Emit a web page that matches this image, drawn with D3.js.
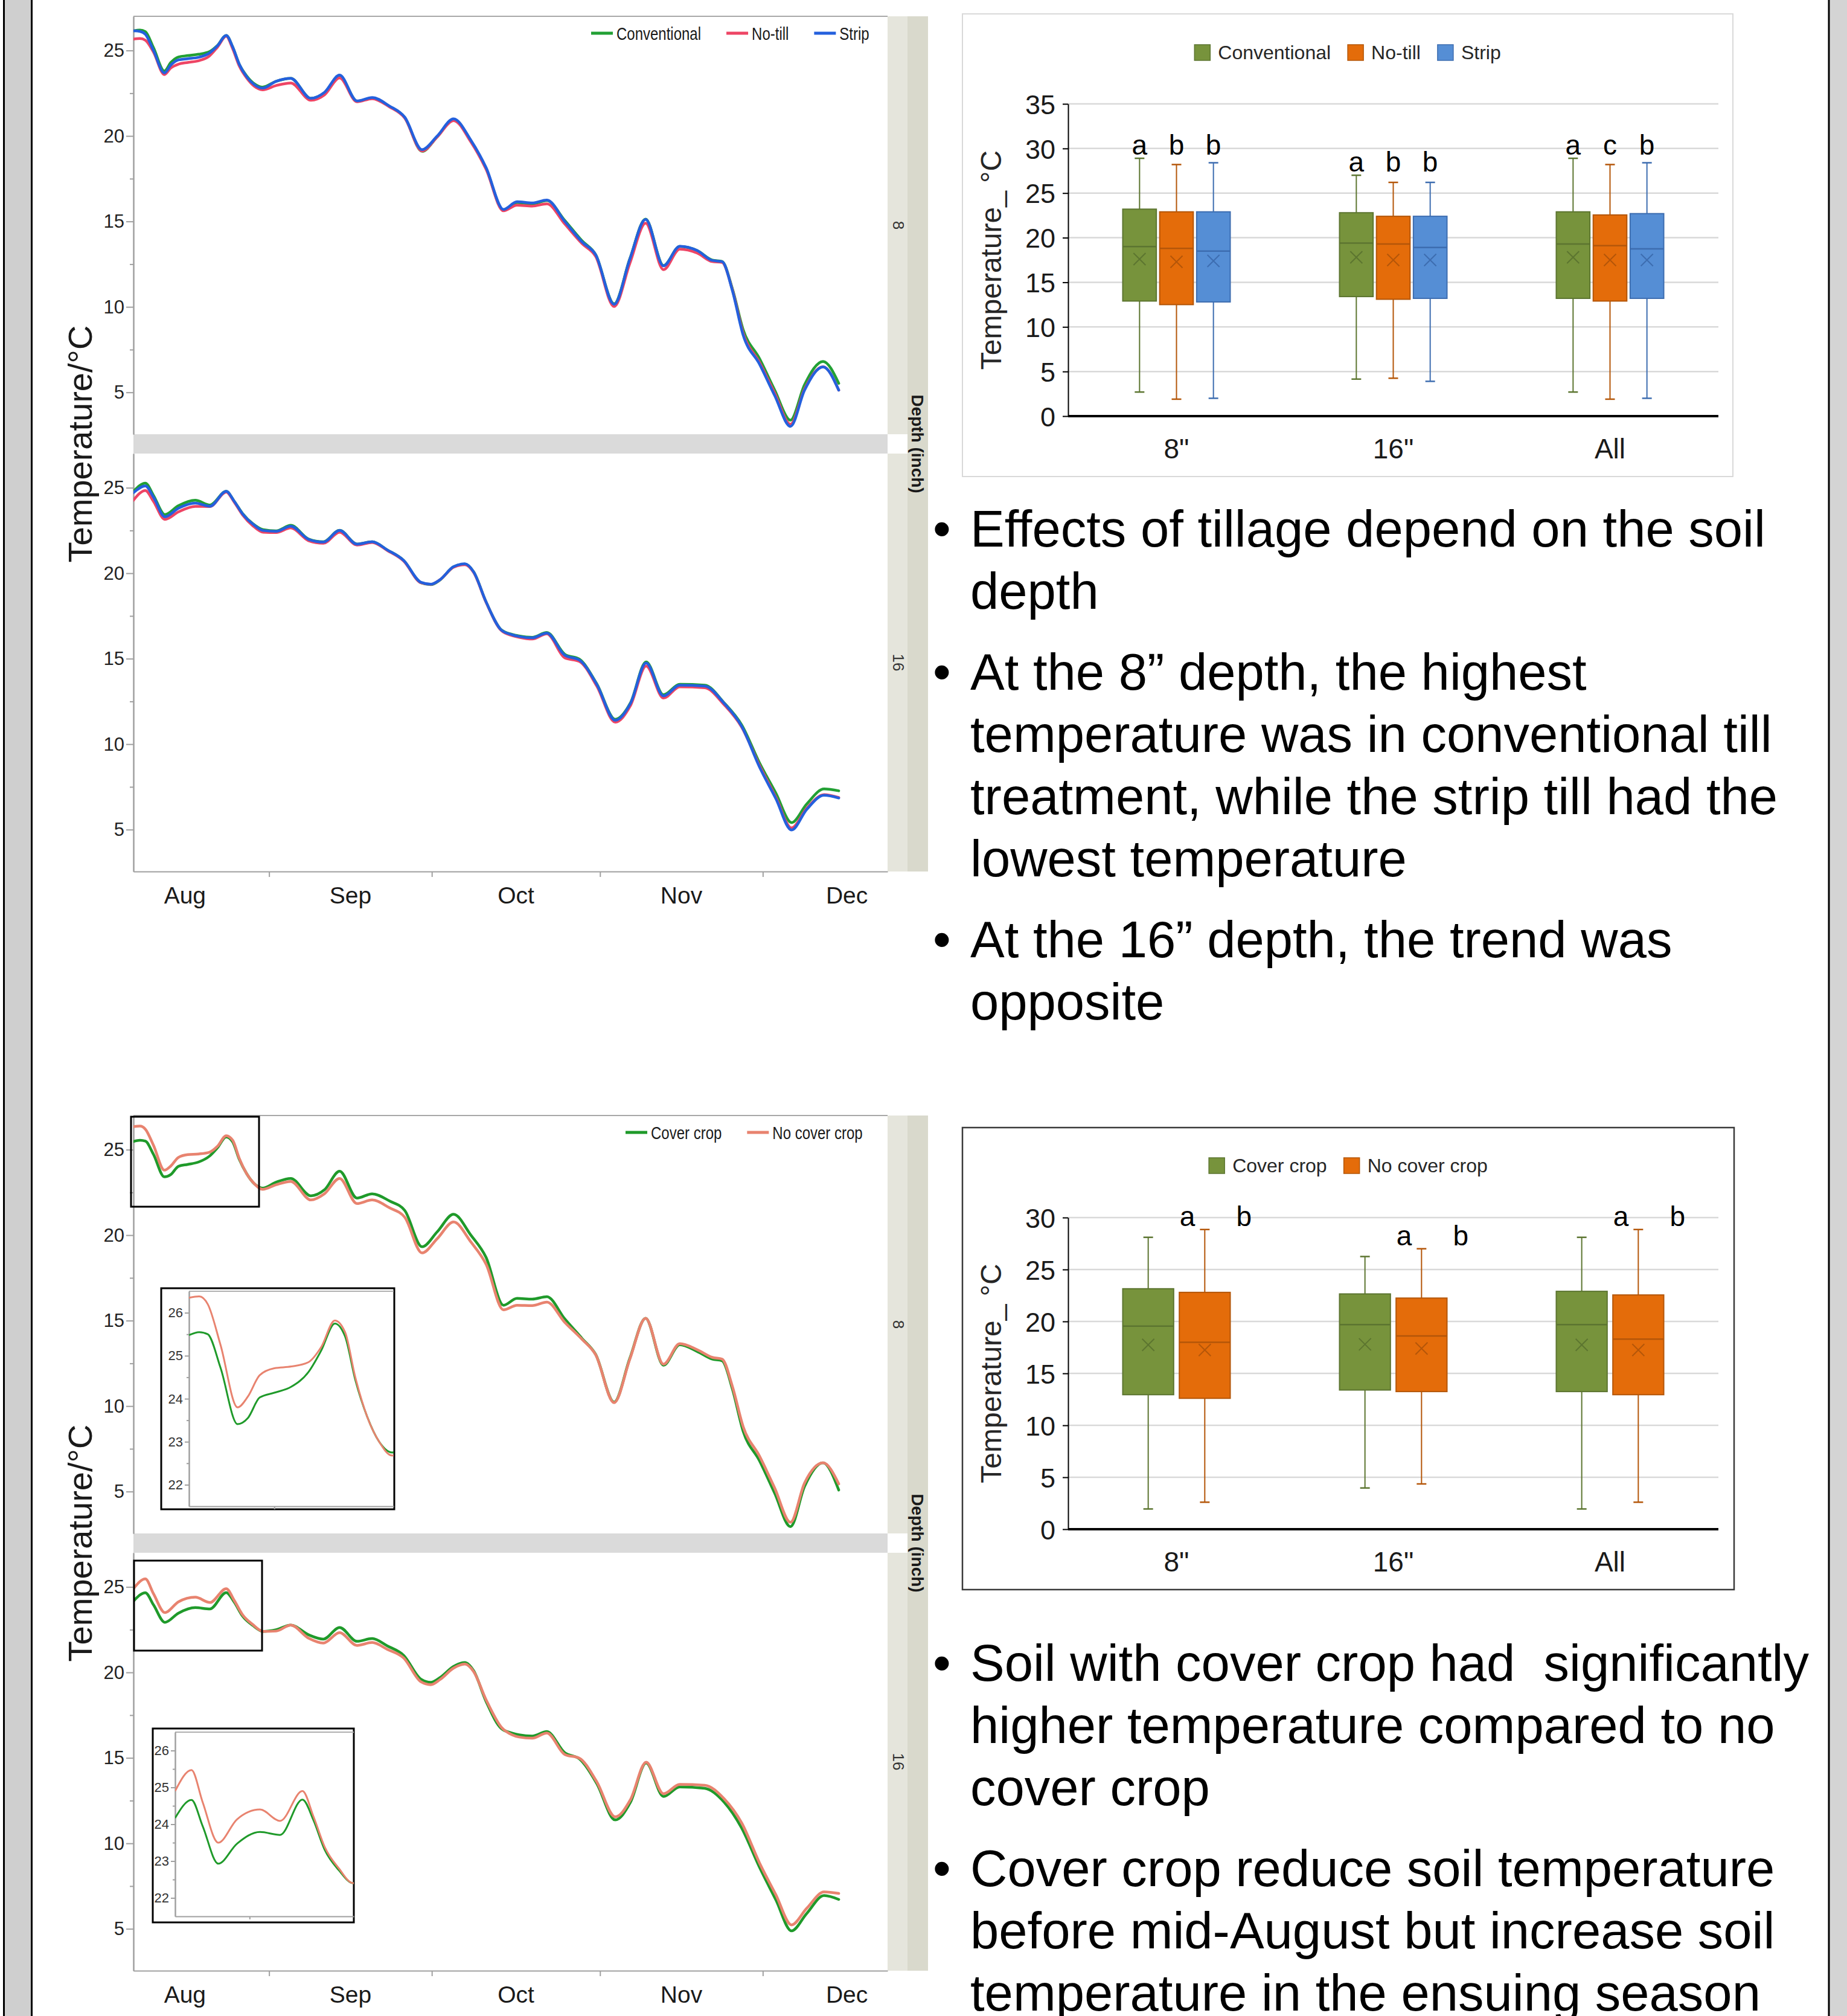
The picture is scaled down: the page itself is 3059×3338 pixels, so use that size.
<!DOCTYPE html>
<html>
<head>
<meta charset="utf-8">
<script src="https://cdn.jsdelivr.net/npm/d3@7/dist/d3.min.js"></script>
<style>
html,body{margin:0;padding:0;background:#fff;}
svg{display:block;font-family:"Liberation Sans",Arial,Helvetica,sans-serif;}
</style>
</head>
<body>
<svg id="chart" width="3059" height="3338"></svg>
<script>
// ---------------- DATA ----------------
const startDate = "2019-08-07";
const endDate = "2019-12-24";
const monthLabels = ["Aug", "Sep", "Oct", "Nov", "Dec"];
const monthTicks = ["2019-09-01", "2019-10-01", "2019-11-01", "2019-12-01"];
const lineYTicks = [5, 10, 15, 20, 25];
const lineYMinor = [7.5, 12.5, 17.5, 22.5];
const insetYTicks = [22, 23, 24, 25, 26];
const insetYMinor = [22.5, 23.5, 24.5, 25.5];
const insetXTicks = ["2019-08-17"];
const insetSpanDays = 24;
const depthLabels = ["8", "16"];

// day offsets from startDate
const days8 = [0, 1.2, 2.2, 3.7, 5.7, 6.9, 8.3, 10, 12, 14, 15.5, 17.1, 18.3, 19.5, 20.9, 22.3, 23.8, 26.3, 29, 32.7, 35.2, 38, 41.2, 44, 47.2, 50, 53.2, 56, 59, 62.2, 65, 68.2, 70.7, 73.5, 76.2, 79.5, 82.7, 85.2, 88.6, 91.5, 94.4, 97.7, 100.7, 103.9, 106.7, 108.5, 110.4, 112.4, 115.4, 118.2, 121.1, 123.7, 127.1, 130];
const conventional8 = [26.15, 26.2, 26.1, 25.16, 23.8, 24.3, 24.62, 24.7, 24.78, 24.93, 25.3, 25.88, 25.2, 24.2, 23.5, 23.05, 22.86, 23.2, 23.37, 22.2, 22.52, 23.53, 22.04, 22.2, 21.72, 21.08, 19.1, 19.95, 20.96, 19.71, 18.1, 15.67, 16.1, 16.03, 16.22, 15.06, 13.86, 13.06, 10.18, 12.82, 15.14, 12.42, 13.54, 13.3, 12.74, 12.66, 11.06, 8.65, 6.97, 5.13, 3.37, 5.45, 6.81, 5.53];
const noTill8 = [25.67, 25.7, 25.6, 24.9, 23.59, 23.98, 24.2, 24.3, 24.4, 24.68, 25.2, 25.83, 25.1, 24.1, 23.38, 22.9, 22.7, 22.95, 23.1, 22.09, 22.4, 23.4, 22.0, 22.18, 21.7, 21.05, 19.12, 19.95, 20.9, 19.65, 18.05, 15.62, 15.95, 15.9, 16.03, 14.85, 13.7, 12.95, 10.02, 12.55, 14.9, 12.18, 13.38, 13.15, 12.65, 12.6, 11.0, 8.45, 6.75, 4.95, 3.13, 5.2, 6.5, 5.13];
const strip8 = [26.15, 26.12, 25.95, 25.0, 23.69, 24.15, 24.45, 24.52, 24.6, 24.85, 25.28, 25.88, 25.2, 24.2, 23.45, 23.0, 22.8, 23.2, 23.37, 22.2, 22.55, 23.56, 22.05, 22.25, 21.75, 21.1, 19.2, 20.0, 21.0, 19.75, 18.15, 15.7, 16.15, 16.08, 16.25, 15.0, 13.8, 13.05, 10.15, 12.8, 15.12, 12.4, 13.55, 13.3, 12.72, 12.65, 10.95, 8.33, 6.65, 4.81, 3.01, 5.13, 6.49, 5.13];
const coverCrop8 = [25.48, 25.55, 25.5, 24.72, 23.41, 23.55, 24.03, 24.14, 24.28, 24.62, 25.12, 25.75, 25.45, 24.44, 23.58, 23.0, 22.75, 23.1, 23.32, 22.3, 22.65, 23.74, 22.17, 22.42, 22.0, 21.45, 19.32, 20.2, 21.22, 20.0, 18.7, 15.9, 16.3, 16.26, 16.4, 15.1, 13.95, 13.02, 10.23, 12.8, 15.14, 12.39, 13.59, 13.2, 12.75, 12.65, 11.0, 8.51, 6.8, 4.9, 2.95, 5.3, 6.68, 5.09];
const noCoverCrop8 = [26.35, 26.38, 26.2, 25.25, 23.8, 24.05, 24.55, 24.71, 24.75, 24.85, 25.2, 25.82, 25.55, 24.5, 23.58, 23.0, 22.68, 22.95, 23.14, 22.06, 22.42, 23.32, 21.85, 22.06, 21.6, 21.05, 18.96, 19.8, 20.77, 19.6, 18.3, 15.63, 15.9, 15.88, 16.08, 14.9, 13.9, 13.0, 10.2, 12.75, 15.14, 12.45, 13.65, 13.3, 12.85, 12.75, 11.15, 8.78, 7.07, 5.2, 3.2, 5.5, 6.68, 5.45];

const days16 = [0, 2.2, 3.7, 5.8, 8.3, 11.4, 14.1, 17.1, 18.6, 20.1, 22, 23.9, 26.3, 29, 32.3, 35, 38, 41.2, 44, 46.8, 49.8, 53, 54.8, 56.5, 59, 61.1, 62.7, 65, 67.8, 69.8, 71.1, 73.5, 76.2, 79.5, 82.2, 85.4, 88.8, 91.6, 94.5, 97.7, 100.7, 105.3, 108.9, 112.1, 115.4, 118.4, 121.3, 124.1, 127.3, 130];
const conventional16 = [24.79, 25.27, 24.55, 23.43, 23.95, 24.27, 23.99, 24.79, 24.2, 23.5, 22.9, 22.55, 22.48, 22.8, 22.0, 21.84, 22.51, 21.71, 21.84, 21.36, 20.75, 19.44, 19.33, 19.6, 20.37, 20.53, 20.08, 18.32, 16.69, 16.42, 16.33, 16.25, 16.53, 15.26, 14.97, 13.53, 11.45, 12.41, 14.81, 12.89, 13.5, 13.45, 12.41, 11.13, 8.9, 7.14, 5.41, 6.5, 7.38, 7.27];
const noTill16 = [24.27, 24.84, 24.2, 23.15, 23.59, 23.91, 23.9, 24.75, 24.15, 23.42, 22.78, 22.4, 22.38, 22.65, 21.9, 21.75, 22.4, 21.65, 21.8, 21.33, 20.72, 19.44, 19.35, 19.62, 20.35, 20.5, 20.05, 18.3, 16.65, 16.35, 16.25, 16.15, 16.45, 15.05, 14.84, 13.4, 11.29, 12.25, 14.57, 12.7, 13.35, 13.3, 12.3, 11.0, 8.75, 6.9, 5.1, 6.25, 7.05, 6.88];
const strip16 = [24.71, 25.11, 24.45, 23.3, 23.8, 24.1, 23.92, 24.79, 24.2, 23.48, 22.88, 22.5, 22.45, 22.75, 21.98, 21.82, 22.5, 21.7, 21.84, 21.36, 20.75, 19.47, 19.36, 19.62, 20.38, 20.55, 20.08, 18.32, 16.68, 16.4, 16.3, 16.22, 16.5, 15.2, 14.92, 13.5, 11.4, 12.38, 14.75, 12.82, 13.45, 13.4, 12.38, 11.05, 8.66, 6.82, 4.98, 6.18, 7.01, 6.85];
const coverCrop16 = [24.17, 24.66, 23.95, 22.93, 23.47, 23.79, 23.71, 24.67, 24.1, 23.3, 22.75, 22.4, 22.5, 22.77, 22.2, 21.95, 22.63, 21.82, 21.98, 21.55, 21.0, 19.6, 19.42, 19.7, 20.35, 20.58, 20.1, 18.3, 16.72, 16.45, 16.35, 16.28, 16.54, 15.3, 14.94, 13.5, 11.37, 12.4, 14.7, 12.74, 13.3, 13.22, 12.4, 10.9, 8.6, 6.7, 4.88, 5.9, 6.95, 6.72];
const noCoverCrop16 = [24.9, 25.47, 24.6, 23.5, 24.13, 24.4, 24.09, 24.9, 24.2, 23.38, 22.8, 22.4, 22.42, 22.77, 22.0, 21.72, 22.33, 21.58, 21.75, 21.35, 20.85, 19.45, 19.28, 19.58, 20.25, 20.49, 20.05, 18.4, 16.8, 16.35, 16.22, 16.15, 16.45, 15.2, 14.98, 13.6, 11.55, 12.55, 14.75, 12.9, 13.45, 13.4, 12.6, 11.2, 8.85, 7.0, 5.23, 6.2, 7.16, 7.07];

// Box plots: each group = [min, Q1, median, Q3, max, mean]
const depthCats = ['8"', '16"', 'All'];
const tillageNames = ["Conventional", "No-till", "Strip"];
const conventionalBox = [[2.7, 12.9, 19.0, 23.2, 28.9, 17.6], [4.15, 13.4, 19.4, 22.8, 27.0, 17.8], [2.7, 13.2, 19.3, 22.9, 28.9, 17.8]];
const noTillBox = [[1.9, 12.5, 18.8, 22.9, 28.2, 17.3], [4.25, 13.1, 19.3, 22.4, 26.2, 17.5], [1.9, 12.9, 19.1, 22.55, 28.2, 17.5]];
const stripBox = [[2.0, 12.8, 18.5, 22.9, 28.4, 17.4], [3.9, 13.2, 18.9, 22.4, 26.2, 17.5], [2.0, 13.2, 18.75, 22.7, 28.4, 17.5]];
const tillageLetters = [["a", "b", "b"], ["a", "b", "b"], ["a", "c", "b"]];
const tillageYTicks = [0, 5, 10, 15, 20, 25, 30, 35];

const coverNames = ["Cover crop", "No cover crop"];
const coverBox = [[1.95, 12.95, 19.55, 23.15, 28.1, 17.75], [3.97, 13.4, 19.7, 22.65, 26.25, 17.8], [1.95, 13.25, 19.7, 22.9, 28.1, 17.75]];
const noCoverBox = [[2.6, 12.6, 18.0, 22.8, 28.85, 17.25], [4.36, 13.25, 18.6, 22.25, 27.0, 17.4], [2.6, 12.95, 18.3, 22.55, 28.85, 17.25]];
const coverLetters = [["a", "b"], ["a", "b"], ["a", "b"]];
const coverYTicks = [0, 5, 10, 15, 20, 25, 30];

const notesTillage = [
  ["Effects of tillage depend on the soil", "depth"],
  ["At the 8\u201D depth, the highest", "temperature was in conventional till", "treatment, while the strip till had the", "lowest temperature"],
  ["At the 16\u201D depth, the trend was", "opposite"]
];
const notesCover = [
  ["Soil with cover crop had  significantly", "higher temperature compared to no", "cover crop"],
  ["Cover crop reduce soil temperature", "before mid-August but increase soil", "temperature in the ensuing season"]
];

// ---------------- DRAWING ----------------
const svg = d3.select("#chart");
const parseDay = s => new Date(s + "T00:00:00Z");
const day0 = parseDay(startDate);
const toDate = d => new Date(day0.getTime() + d * 864e5);

// page borders
svg.append("rect").attr("x", 6.5).attr("y", -5).attr("width", 46).attr("height", 3350)
  .attr("fill", "#cfcfcf").attr("stroke", "#000").attr("stroke-width", 3);
svg.append("rect").attr("x", 3029).attr("y", -5).attr("width", 40).attr("height", 3350)
  .attr("fill", "#d4d4d4").attr("stroke", "#000").attr("stroke-width", 3);

function styleAxis(sel, color, fontSize, textColor) {
  sel.select(".domain").attr("stroke", color).attr("stroke-width", 2);
  sel.selectAll(".tick line").attr("stroke", color).attr("stroke-width", 2);
  sel.selectAll(".tick text").attr("font-size", fontSize).attr("fill", textColor)
    .attr("font-family", '"Liberation Sans",Arial,sans-serif');
}

function drawLineChart(cfg) {
  const g = svg.append("g").attr("transform", `translate(0,${cfg.dy})`);
  const L = 221, R = 1470, H = 692, tops = [27, 751];
  const bottom = tops[1] + H;
  const x = d3.scaleUtc().domain([parseDay(startDate), parseDay(endDate)]).range([L, R]);
  const line = (xs, ys) => d3.line().x(d => xs(d[0])).y(d => ys(d[1])).curve(d3.curveMonotoneX);

  // Depth column
  g.append("rect").attr("x", 1503).attr("y", tops[0]).attr("width", 34).attr("height", bottom - tops[0]).attr("fill", "#d9d9cc");
  g.append("text").attr("transform", `translate(1510,${(tops[0] + bottom) / 2}) rotate(90)`)
    .attr("text-anchor", "middle").attr("font-size", 28).attr("font-weight", "bold").attr("fill", "#1a1a1a").text("Depth (inch)");
  // separator band
  g.append("rect").attr("x", L).attr("y", tops[0] + H).attr("width", R - L).attr("height", tops[1] - tops[0] - H).attr("fill", "#dadada");
  // y title
  g.append("text").attr("transform", `translate(152,${(tops[0] + bottom) / 2}) rotate(-90)`)
    .attr("text-anchor", "middle").attr("font-size", 56).attr("fill", "#1a1a1a").text("Temperature/\u00B0C");

  const scalesY = [];
  cfg.panels.forEach((p, i) => {
    const top = tops[i];
    const y = d3.scaleLinear().domain([2.55, 27]).range([top + H, top]);
    scalesY.push(y);
    g.append("rect").attr("x", R).attr("y", top).attr("width", 33).attr("height", H).attr("fill", "#e5e5dc");
    g.append("text").attr("transform", `translate(1479,${top + H / 2}) rotate(90)`)
      .attr("text-anchor", "middle").attr("font-size", 26).attr("fill", "#333").text(depthLabels[i]);
    const ax = g.append("g").attr("transform", `translate(${L},0)`)
      .call(d3.axisLeft(y).tickValues(lineYTicks).tickSize(12).tickSizeOuter(0).tickPadding(3).tickFormat(d3.format("d")));
    styleAxis(ax, "#a0a0a0", 31, "#222");
    const axm = g.append("g").attr("transform", `translate(${L},0)`)
      .call(d3.axisLeft(y).tickValues(lineYMinor).tickSize(6).tickSizeOuter(0).tickFormat(""));
    styleAxis(axm, "#a0a0a0", 10, "#222");
    const cid = `clip${cfg.id}${i}`;
    g.append("clipPath").attr("id", cid).append("rect").attr("x", L).attr("y", top).attr("width", R - L).attr("height", H);
    const lg = g.append("g").attr("clip-path", `url(#${cid})`);
    p.series.forEach(s => {
      lg.append("path").datum(s.values.map((v, k) => [toDate(p.days[k]), v]))
        .attr("fill", "none").attr("stroke", s.color).attr("stroke-width", 4.5)
        .attr("stroke-linejoin", "round").attr("stroke-linecap", "round")
        .attr("d", line(x, y));
    });
  });
  // top border
  g.append("line").attr("x1", L).attr("x2", R).attr("y1", tops[0]).attr("y2", tops[0]).attr("stroke", "#a8a8a8").attr("stroke-width", 2);
  // x axis
  const xa = g.append("g").attr("transform", `translate(0,${bottom})`)
    .call(d3.axisBottom(x).tickValues(monthTicks.map(parseDay)).tickSize(9).tickSizeOuter(0).tickFormat(""));
  styleAxis(xa, "#a0a0a0", 10, "#222");
  const firstMonth = d3.utcMonth.offset(parseDay(monthTicks[0]), -1);
  monthLabels.forEach((m, i) => {
    const s = d3.utcMonth.offset(firstMonth, i), e = d3.utcMonth.offset(s, 1);
    const mid = new Date((s.getTime() + e.getTime()) / 2);
    g.append("text").attr("x", x(mid)).attr("y", bottom + 53).attr("text-anchor", "middle")
      .attr("font-size", 39).attr("fill", "#1a1a1a").text(m);
  });
  // legend
  let lx = cfg.legendX; const ly = tops[0] + 28;
  cfg.legend.forEach(it => {
    g.append("line").attr("x1", lx).attr("x2", lx + 36).attr("y1", ly).attr("y2", ly).attr("stroke", it.color).attr("stroke-width", 5);
    const t = g.append("text").attr("transform", `translate(${lx + 42},${ly + 11}) scale(0.8,1)`)
      .attr("font-size", 30).attr("fill", "#1a1a1a").text(it.name);
    lx += 42 + t.node().getComputedTextLength() * 0.8 + 42;
  });
  // insets
  (cfg.insets || []).forEach((ins, n) => {
    const p = cfg.panels[ins.panel];
    g.append("rect").attr("x", ins.zoom[0]).attr("y", ins.zoom[1]).attr("width", ins.zoom[2] - ins.zoom[0])
      .attr("height", ins.zoom[3] - ins.zoom[1]).attr("fill", "none").attr("stroke", "#000").attr("stroke-width", 3);
    g.append("rect").attr("x", ins.box[0]).attr("y", ins.box[1]).attr("width", ins.box[2] - ins.box[0])
      .attr("height", ins.box[3] - ins.box[1]).attr("fill", "#fff").attr("stroke", "#000").attr("stroke-width", 3);
    const [ix0, iy0, ix1, iy1] = ins.inner;
    const xi = d3.scaleUtc().domain([day0, d3.utcDay.offset(day0, insetSpanDays)]).range([ix0, ix1]);
    const yi = d3.scaleLinear().domain([21.5, 26.5]).range([iy1, iy0]);
    g.append("line").attr("x1", ix0).attr("x2", ix1).attr("y1", iy0).attr("y2", iy0).attr("stroke", "#b0b0b0").attr("stroke-width", 2);
    const a1 = g.append("g").attr("transform", `translate(${ix0},0)`)
      .call(d3.axisLeft(yi).tickValues(insetYTicks).tickSize(7).tickSizeOuter(0).tickPadding(3).tickFormat(d3.format("d")));
    styleAxis(a1, "#a0a0a0", 22, "#333");
    const a2 = g.append("g").attr("transform", `translate(${ix0},0)`)
      .call(d3.axisLeft(yi).tickValues(insetYMinor).tickSize(4).tickSizeOuter(0).tickFormat(""));
    styleAxis(a2, "#a0a0a0", 10, "#333");
    const a3 = g.append("g").attr("transform", `translate(0,${iy1})`)
      .call(d3.axisBottom(xi).tickValues(insetXTicks.map(parseDay)).tickSize(5).tickSizeOuter(0).tickFormat(""));
    styleAxis(a3, "#a0a0a0", 10, "#333");
    const cid = `iclip${cfg.id}${n}`;
    g.append("clipPath").attr("id", cid).append("rect").attr("x", ix0).attr("y", iy0).attr("width", ix1 - ix0).attr("height", iy1 - iy0);
    const lg = g.append("g").attr("clip-path", `url(#${cid})`);
    p.series.forEach(s => {
      lg.append("path").datum(s.values.map((v, k) => [toDate(p.days[k]), v]))
        .attr("fill", "none").attr("stroke", s.color).attr("stroke-width", 3)
        .attr("d", line(xi, yi));
    });
  });
}

const cConv = "#22a034", cNo = "#ee4565", cStrip = "#2460dd", cCover = "#1f9a2a", cNoCover = "#e8836f";

drawLineChart({
  id: "t", dy: 0, legendX: 979,
  legend: [{ name: "Conventional", color: cConv }, { name: "No-till", color: cNo }, { name: "Strip", color: cStrip }],
  panels: [
    { days: days8, series: [{ values: conventional8, color: cConv }, { values: noTill8, color: cNo }, { values: strip8, color: cStrip }] },
    { days: days16, series: [{ values: conventional16, color: cConv }, { values: noTill16, color: cNo }, { values: strip16, color: cStrip }] }
  ]
});

drawLineChart({
  id: "c", dy: 1820, legendX: 1036,
  legend: [{ name: "Cover crop", color: cCover }, { name: "No cover crop", color: cNoCover }],
  panels: [
    { days: days8, series: [{ values: coverCrop8, color: cCover }, { values: noCoverCrop8, color: cNoCover }] },
    { days: days16, series: [{ values: coverCrop16, color: cCover }, { values: noCoverCrop16, color: cNoCover }] }
  ],
  insets: [
    { panel: 0, zoom: [217, 29, 429, 178], box: [267, 313, 653, 679], inner: [313, 318, 652, 674] },
    { panel: 1, zoom: [222, 764, 434, 913], box: [253, 1042, 586, 1363], inner: [290, 1048, 586, 1353] }
  ]
});

function drawBoxPlot(cfg) {
  const g = svg.append("g");
  const [fx0, fy0, fx1, fy1] = cfg.frame;
  g.append("rect").attr("x", fx0).attr("y", fy0).attr("width", fx1 - fx0).attr("height", fy1 - fy0)
    .attr("fill", "#fff").attr("stroke", cfg.frameColor).attr("stroke-width", cfg.frameWidth);
  const L = 1769, R = 2846;
  const y = d3.scaleLinear().domain([0, d3.max(cfg.yTicks)]).range(cfg.yRange);
  cfg.yTicks.filter(t => t > 0).forEach(t => {
    g.append("line").attr("x1", L).attr("x2", R).attr("y1", y(t)).attr("y2", y(t)).attr("stroke", "#d9d9d9").attr("stroke-width", 2.5);
  });
  const ax = g.append("g").attr("transform", `translate(${L},0)`)
    .call(d3.axisLeft(y).tickValues(cfg.yTicks).tickSize(9).tickSizeOuter(0).tickPadding(12).tickFormat(d3.format("d")));
  styleAxis(ax, "#000", 45, "#1a1a1a");
  ax.selectAll(".tick text").attr("dy", "0.36em");
  g.append("line").attr("x1", L).attr("x2", R).attr("y1", y(0)).attr("y2", y(0)).attr("stroke", "#000").attr("stroke-width", 4);
  const mid = (cfg.yRange[0] + cfg.yRange[1]) / 2;
  g.append("text").attr("transform", `translate(1658,${mid}) rotate(-90)`).attr("text-anchor", "middle")
    .attr("font-size", 48).attr("fill", "#262626").text("Temperature_ \u00B0C");

  const xg = d3.scaleBand().domain(depthCats).range([L, R]);
  const xs = d3.scaleBand().domain(cfg.names).range([-89, 89]).paddingInner(cfg.pad);
  depthCats.forEach(c => {
    g.append("text").attr("x", xg(c) + xg.bandwidth() / 2).attr("y", y(0) + 70).attr("text-anchor", "middle")
      .attr("font-size", 46).attr("fill", "#1a1a1a").text(c);
  });
  cfg.names.forEach((nm, k) => {
    const fill = cfg.colors[k], dark = cfg.darks[k];
    cfg.stats[k].forEach((st, j) => {
      const [mn, q1, md, q3, mx, mean] = st;
      const bx = xg(depthCats[j]) + xg.bandwidth() / 2 + xs(nm);
      const bw = xs.bandwidth(), cx = bx + bw / 2;
      g.append("line").attr("x1", cx).attr("x2", cx).attr("y1", y(mx)).attr("y2", y(mn)).attr("stroke", dark).attr("stroke-width", 2);
      [mn, mx].forEach(v => g.append("line").attr("x1", cx - 8).attr("x2", cx + 8).attr("y1", y(v)).attr("y2", y(v)).attr("stroke", dark).attr("stroke-width", 2.5));
      g.append("rect").attr("x", bx).attr("y", y(q3)).attr("width", bw).attr("height", y(q1) - y(q3))
        .attr("fill", fill).attr("stroke", dark).attr("stroke-width", 2);
      g.append("line").attr("x1", bx).attr("x2", bx + bw).attr("y1", y(md)).attr("y2", y(md)).attr("stroke", dark).attr("stroke-width", 2.5);
      const my = y(mean), s = 10;
      g.append("path").attr("d", `M${cx - s},${my - s}L${cx + s},${my + s}M${cx + s},${my - s}L${cx - s},${my + s}`)
        .attr("stroke", dark).attr("stroke-width", 2).attr("fill", "none");
    });
  });
  // significance letters
  depthCats.forEach((c, j) => {
    const top = d3.max(cfg.stats.map(s => s[j][4]));
    cfg.names.forEach((nm, k) => {
      const cx = xg(c) + xg.bandwidth() / 2 + xs(nm) + xs.bandwidth() / 2 + cfg.letterDx;
      g.append("text").attr("x", cx).attr("y", y(top) - 6).attr("text-anchor", "middle")
        .attr("font-size", 46).attr("fill", "#000").text(cfg.letters[j][k]);
    });
  });
  // legend
  const items = cfg.names.map((nm, k) => {
    const t = g.append("text").attr("font-size", 32).attr("fill", "#262626").text(nm);
    return { t, w: t.node().getComputedTextLength(), k };
  });
  const total = d3.sum(items, d => 26 + 13 + d.w) + 28 * (items.length - 1);
  let lx = (fx0 + fx1) / 2 - total / 2;
  items.forEach(it => {
    g.append("rect").attr("x", lx).attr("y", cfg.legendY - 13).attr("width", 26).attr("height", 26)
      .attr("fill", cfg.colors[it.k]).attr("stroke", cfg.darks[it.k]).attr("stroke-width", 1.5);
    it.t.attr("x", lx + 39).attr("y", cfg.legendY + 11);
    lx += 39 + it.w + 28;
  });
}

const gFill = "#77933C", gDark = "#5c7530", oFill = "#E46C0A", oDark = "#b45609", bFill = "#558ED5", bDark = "#3d6db0";

drawBoxPlot({
  frame: [1594, 23, 2870, 789], frameColor: "#d9d9d9", frameWidth: 2,
  yTicks: tillageYTicks, yRange: [689, 172],
  names: tillageNames, colors: [gFill, oFill, bFill], darks: [gDark, oDark, bDark],
  stats: [conventionalBox, noTillBox, stripBox], pad: 0.09,
  letters: tillageLetters, letterDx: 0, legendY: 87
});

drawBoxPlot({
  frame: [1594, 1867, 2872, 2632], frameColor: "#3a3a3a", frameWidth: 2.5,
  yTicks: coverYTicks, yRange: [2532, 2016],
  names: coverNames, colors: [gFill, oFill], darks: [gDark, oDark],
  stats: [coverBox, noCoverBox], pad: 0.1,
  letters: coverLetters, letterDx: 65, legendY: 1930
});

function drawNotes(paras, y0) {
  let y = y0;
  paras.forEach((lines, pi) => {
    if (pi > 0) y += 31;
    lines.forEach((ln, li) => {
      if (li === 0) svg.append("text").attr("x", 1560).attr("y", y).attr("text-anchor", "middle")
        .attr("font-size", 85).attr("fill", "#000").text("\u2022");
      svg.append("text").attr("x", 1607).attr("y", y).attr("font-size", 85).attr("fill", "#000")
        .style("white-space", "pre").text(ln);
      y += 103;
    });
  });
}
drawNotes(notesTillage, 905);
drawNotes(notesCover, 2783);
</script>
</body>
</html>
